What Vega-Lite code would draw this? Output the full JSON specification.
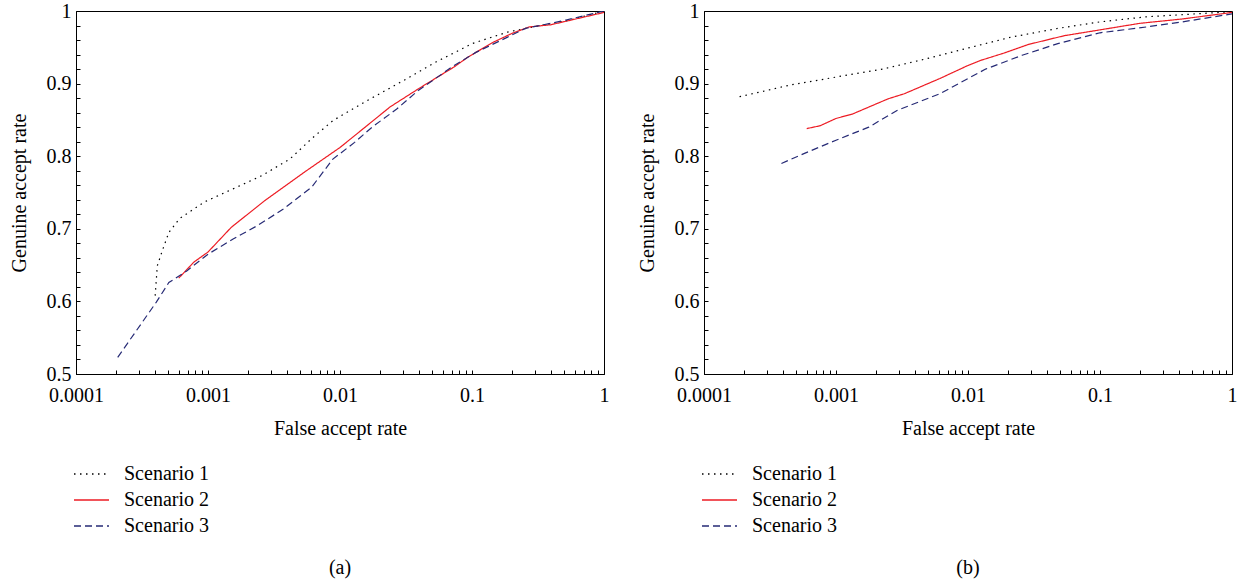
{
  "$schema": "https://vega.github.io/schema/vega-lite/v6.json",
  "padding": {"left": 8, "top": 0, "right": 0, "bottom": 0},
  "background": "white",
  "config": {
    "font": "Liberation Serif",
    "view": {"stroke": "black", "strokeWidth": 1},
    "axis": {
      "grid": false,
      "ticks": true,
      "labelFont": "Liberation Serif",
      "labelFontSize": 20,
      "labelColor": "black",
      "titleFont": "Liberation Serif",
      "titleFontSize": 20,
      "titleFontWeight": "normal",
      "titleColor": "black",
      "domainColor": "black",
      "tickColor": "black",
      "tickWidth": 1,
      "tickSize": -4,
      "labelOverlap": false,
      "labelFlush": false
    },
    "legend": {
      "title": null, "orient": "none", "legendX": -3, "legendY": 450,
      "symbolType": "stroke", "symbolSize": 1225, "symbolStrokeWidth": 1.5,
      "labelFontSize": 20, "labelFont": "Liberation Serif", "labelColor": "black",
      "labelOffset": 14, "rowPadding": 0, "clipHeight": 26
    },
    "title": {"font": "Liberation Serif", "fontSize": 20, "fontWeight": "normal", "color": "black"}
  },
  "datasets": {
    "a": [
      {"far": 0.000398, "gar": 0.608, "scenario": "Scenario 1"},
      {"far": 0.000413, "gar": 0.649, "scenario": "Scenario 1"},
      {"far": 0.000447, "gar": 0.668, "scenario": "Scenario 1"},
      {"far": 0.000505, "gar": 0.695, "scenario": "Scenario 1"},
      {"far": 0.000608, "gar": 0.714, "scenario": "Scenario 1"},
      {"far": 0.00094, "gar": 0.737, "scenario": "Scenario 1"},
      {"far": 0.00155, "gar": 0.755, "scenario": "Scenario 1"},
      {"far": 0.00254, "gar": 0.773, "scenario": "Scenario 1"},
      {"far": 0.00417, "gar": 0.796, "scenario": "Scenario 1"},
      {"far": 0.00608, "gar": 0.824, "scenario": "Scenario 1"},
      {"far": 0.00883, "gar": 0.849, "scenario": "Scenario 1"},
      {"far": 0.0155, "gar": 0.875, "scenario": "Scenario 1"},
      {"far": 0.0288, "gar": 0.902, "scenario": "Scenario 1"},
      {"far": 0.0537, "gar": 0.930, "scenario": "Scenario 1"},
      {"far": 0.1, "gar": 0.955, "scenario": "Scenario 1"},
      {"far": 0.186, "gar": 0.971, "scenario": "Scenario 1"},
      {"far": 0.309, "gar": 0.979, "scenario": "Scenario 1"},
      {"far": 0.537, "gar": 0.987, "scenario": "Scenario 1"},
      {"far": 1, "gar": 1.0, "scenario": "Scenario 1"},
      {"far": 0.0006, "gar": 0.632, "scenario": "Scenario 2"},
      {"far": 0.00078, "gar": 0.654, "scenario": "Scenario 2"},
      {"far": 0.001, "gar": 0.668, "scenario": "Scenario 2"},
      {"far": 0.0015, "gar": 0.702, "scenario": "Scenario 2"},
      {"far": 0.0027, "gar": 0.739, "scenario": "Scenario 2"},
      {"far": 0.00537, "gar": 0.778, "scenario": "Scenario 2"},
      {"far": 0.01, "gar": 0.812, "scenario": "Scenario 2"},
      {"far": 0.0155, "gar": 0.840, "scenario": "Scenario 2"},
      {"far": 0.024, "gar": 0.868, "scenario": "Scenario 2"},
      {"far": 0.0394, "gar": 0.893, "scenario": "Scenario 2"},
      {"far": 0.0733, "gar": 0.923, "scenario": "Scenario 2"},
      {"far": 0.094, "gar": 0.937, "scenario": "Scenario 2"},
      {"far": 0.145, "gar": 0.957, "scenario": "Scenario 2"},
      {"far": 0.2, "gar": 0.969, "scenario": "Scenario 2"},
      {"far": 0.27, "gar": 0.978, "scenario": "Scenario 2"},
      {"far": 0.394, "gar": 0.981, "scenario": "Scenario 2"},
      {"far": 1, "gar": 0.998, "scenario": "Scenario 2"},
      {"far": 0.000207, "gar": 0.523, "scenario": "Scenario 3"},
      {"far": 0.000406, "gar": 0.599, "scenario": "Scenario 3"},
      {"far": 0.000505, "gar": 0.626, "scenario": "Scenario 3"},
      {"far": 0.00069, "gar": 0.642, "scenario": "Scenario 3"},
      {"far": 0.001, "gar": 0.665, "scenario": "Scenario 3"},
      {"far": 0.00155, "gar": 0.686, "scenario": "Scenario 3"},
      {"far": 0.0024, "gar": 0.705, "scenario": "Scenario 3"},
      {"far": 0.0037, "gar": 0.727, "scenario": "Scenario 3"},
      {"far": 0.00608, "gar": 0.757, "scenario": "Scenario 3"},
      {"far": 0.00883, "gar": 0.796, "scenario": "Scenario 3"},
      {"far": 0.0129, "gar": 0.819, "scenario": "Scenario 3"},
      {"far": 0.0175, "gar": 0.840, "scenario": "Scenario 3"},
      {"far": 0.0269, "gar": 0.865, "scenario": "Scenario 3"},
      {"far": 0.0394, "gar": 0.891, "scenario": "Scenario 3"},
      {"far": 0.0733, "gar": 0.925, "scenario": "Scenario 3"},
      {"far": 0.107, "gar": 0.943, "scenario": "Scenario 3"},
      {"far": 0.186, "gar": 0.964, "scenario": "Scenario 3"},
      {"far": 0.254, "gar": 0.976, "scenario": "Scenario 3"},
      {"far": 0.474, "gar": 0.986, "scenario": "Scenario 3"},
      {"far": 1, "gar": 1.0, "scenario": "Scenario 3"}
    ],
    "b": [
      {"far": 0.000186, "gar": 0.882, "scenario": "Scenario 1"},
      {"far": 0.00045, "gar": 0.898, "scenario": "Scenario 1"},
      {"far": 0.001, "gar": 0.909, "scenario": "Scenario 1"},
      {"far": 0.00226, "gar": 0.920, "scenario": "Scenario 1"},
      {"far": 0.00479, "gar": 0.934, "scenario": "Scenario 1"},
      {"far": 0.01, "gar": 0.949, "scenario": "Scenario 1"},
      {"far": 0.0212, "gar": 0.964, "scenario": "Scenario 1"},
      {"far": 0.0479, "gar": 0.976, "scenario": "Scenario 1"},
      {"far": 0.1, "gar": 0.985, "scenario": "Scenario 1"},
      {"far": 0.224, "gar": 0.992, "scenario": "Scenario 1"},
      {"far": 1, "gar": 0.999, "scenario": "Scenario 1"},
      {"far": 0.0006, "gar": 0.838, "scenario": "Scenario 2"},
      {"far": 0.00076, "gar": 0.842, "scenario": "Scenario 2"},
      {"far": 0.001, "gar": 0.852, "scenario": "Scenario 2"},
      {"far": 0.00133, "gar": 0.858, "scenario": "Scenario 2"},
      {"far": 0.00248, "gar": 0.879, "scenario": "Scenario 2"},
      {"far": 0.00329, "gar": 0.886, "scenario": "Scenario 2"},
      {"far": 0.00612, "gar": 0.907, "scenario": "Scenario 2"},
      {"far": 0.01, "gar": 0.925, "scenario": "Scenario 2"},
      {"far": 0.0125, "gar": 0.932, "scenario": "Scenario 2"},
      {"far": 0.0187, "gar": 0.942, "scenario": "Scenario 2"},
      {"far": 0.0288, "gar": 0.954, "scenario": "Scenario 2"},
      {"far": 0.0537, "gar": 0.966, "scenario": "Scenario 2"},
      {"far": 0.1, "gar": 0.974, "scenario": "Scenario 2"},
      {"far": 0.2, "gar": 0.983, "scenario": "Scenario 2"},
      {"far": 0.419, "gar": 0.989, "scenario": "Scenario 2"},
      {"far": 1, "gar": 0.998, "scenario": "Scenario 2"},
      {"far": 0.000386, "gar": 0.790, "scenario": "Scenario 3"},
      {"far": 0.000614, "gar": 0.806, "scenario": "Scenario 3"},
      {"far": 0.001, "gar": 0.822, "scenario": "Scenario 3"},
      {"far": 0.00177, "gar": 0.840, "scenario": "Scenario 3"},
      {"far": 0.0029, "gar": 0.863, "scenario": "Scenario 3"},
      {"far": 0.00612, "gar": 0.886, "scenario": "Scenario 3"},
      {"far": 0.01, "gar": 0.907, "scenario": "Scenario 3"},
      {"far": 0.0136, "gar": 0.920, "scenario": "Scenario 3"},
      {"far": 0.0257, "gar": 0.939, "scenario": "Scenario 3"},
      {"far": 0.0479, "gar": 0.955, "scenario": "Scenario 3"},
      {"far": 0.1, "gar": 0.970, "scenario": "Scenario 3"},
      {"far": 0.225, "gar": 0.978, "scenario": "Scenario 3"},
      {"far": 0.419, "gar": 0.985, "scenario": "Scenario 3"},
      {"far": 1, "gar": 0.996, "scenario": "Scenario 3"}
    ]
  },
  "spacing": 26,
  "resolve": {"scale": {"color": "independent", "strokeDash": "independent"}, "legend": {"color": "independent", "strokeDash": "independent"}},
  "hconcat": [
    {
      "width": 528,
      "height": 363,
      "title": {"text": "(a)", "orient": "bottom", "offset": 19},
      "data": {"name": "a"},
      "mark": {"type": "line", "strokeWidth": 1.2, "clip": true},
      "encoding": {
        "x": {
          "field": "far", "type": "quantitative",
          "scale": {"type": "log", "domain": [0.0001, 1]},
          "axis": {
            "title": "False accept rate",
            "values": [0.0001,0.0002,0.0003,0.0004,0.0005,0.0006,0.0007,0.0008,0.0009,0.001,0.002,0.003,0.004,0.005,0.006,0.007,0.008,0.009,0.01,0.02,0.03,0.04,0.05,0.06,0.07,0.08,0.09,0.1,0.2,0.3,0.4,0.5,0.6,0.7,0.8,0.9,1],
            "labelExpr": "abs(log(datum.value)/LN10 - round(log(datum.value)/LN10)) < 1e-6 ? format(datum.value, '~g') : ''",
            "labelPadding": 15,
            "titlePadding": 13,
            "encode": {"ticks": {"update": {"y2": {"signal": "abs(log(datum.value)/LN10 - round(log(datum.value)/LN10)) < 1e-6 ? -7 : -4"}}}}
          }
        },
        "y": {
          "field": "gar", "type": "quantitative",
          "scale": {"domain": [0.5, 1], "zero": false},
          "axis": {
            "title": "Genuine accept rate",
            "values": [0.5,0.52,0.54,0.56,0.58,0.6,0.62,0.64,0.66,0.68,0.7,0.72,0.74,0.76,0.78,0.8,0.82,0.84,0.86,0.88,0.9,0.92,0.94,0.96,0.98,1],
            "labelExpr": "abs(datum.value*10 - round(datum.value*10)) < 1e-6 ? format(datum.value, '~g') : ''",
            "labelPadding": 9,
            "titlePadding": 17,
            "encode": {"ticks": {"update": {"x2": {"signal": "abs(datum.value*10 - round(datum.value*10)) < 1e-6 ? 7 : 4"}}}}
          }
        },
        "color": {
          "field": "scenario", "type": "nominal",
          "scale": {"domain": ["Scenario 1", "Scenario 2", "Scenario 3"], "range": ["#000000", "#ed1c24", "#262a75"]},
          "legend": {"title": null}
        },
        "strokeDash": {
          "field": "scenario", "type": "nominal",
          "scale": {"domain": ["Scenario 1", "Scenario 2", "Scenario 3"], "range": [[1.5, 4.5], [1, 0], [7, 4]]},
          "legend": {"title": null}
        }
      }
    },
    {
      "width": 528,
      "height": 363,
      "title": {"text": "(b)", "orient": "bottom", "offset": 19},
      "data": {"name": "b"},
      "mark": {"type": "line", "strokeWidth": 1.2, "clip": true},
      "encoding": {
        "x": {
          "field": "far", "type": "quantitative",
          "scale": {"type": "log", "domain": [0.0001, 1]},
          "axis": {
            "title": "False accept rate",
            "values": [0.0001,0.0002,0.0003,0.0004,0.0005,0.0006,0.0007,0.0008,0.0009,0.001,0.002,0.003,0.004,0.005,0.006,0.007,0.008,0.009,0.01,0.02,0.03,0.04,0.05,0.06,0.07,0.08,0.09,0.1,0.2,0.3,0.4,0.5,0.6,0.7,0.8,0.9,1],
            "labelExpr": "abs(log(datum.value)/LN10 - round(log(datum.value)/LN10)) < 1e-6 ? format(datum.value, '~g') : ''",
            "labelPadding": 15,
            "titlePadding": 13,
            "encode": {"ticks": {"update": {"y2": {"signal": "abs(log(datum.value)/LN10 - round(log(datum.value)/LN10)) < 1e-6 ? -7 : -4"}}}}
          }
        },
        "y": {
          "field": "gar", "type": "quantitative",
          "scale": {"domain": [0.5, 1], "zero": false},
          "axis": {
            "title": "Genuine accept rate",
            "values": [0.5,0.52,0.54,0.56,0.58,0.6,0.62,0.64,0.66,0.68,0.7,0.72,0.74,0.76,0.78,0.8,0.82,0.84,0.86,0.88,0.9,0.92,0.94,0.96,0.98,1],
            "labelExpr": "abs(datum.value*10 - round(datum.value*10)) < 1e-6 ? format(datum.value, '~g') : ''",
            "labelPadding": 9,
            "titlePadding": 17,
            "encode": {"ticks": {"update": {"x2": {"signal": "abs(datum.value*10 - round(datum.value*10)) < 1e-6 ? 7 : 4"}}}}
          }
        },
        "color": {
          "field": "scenario", "type": "nominal",
          "scale": {"domain": ["Scenario 1", "Scenario 2", "Scenario 3"], "range": ["#000000", "#ed1c24", "#262a75"]},
          "legend": {"title": null}
        },
        "strokeDash": {
          "field": "scenario", "type": "nominal",
          "scale": {"domain": ["Scenario 1", "Scenario 2", "Scenario 3"], "range": [[1.5, 4.5], [1, 0], [7, 4]]},
          "legend": {"title": null}
        }
      }
    }
  ]
}
